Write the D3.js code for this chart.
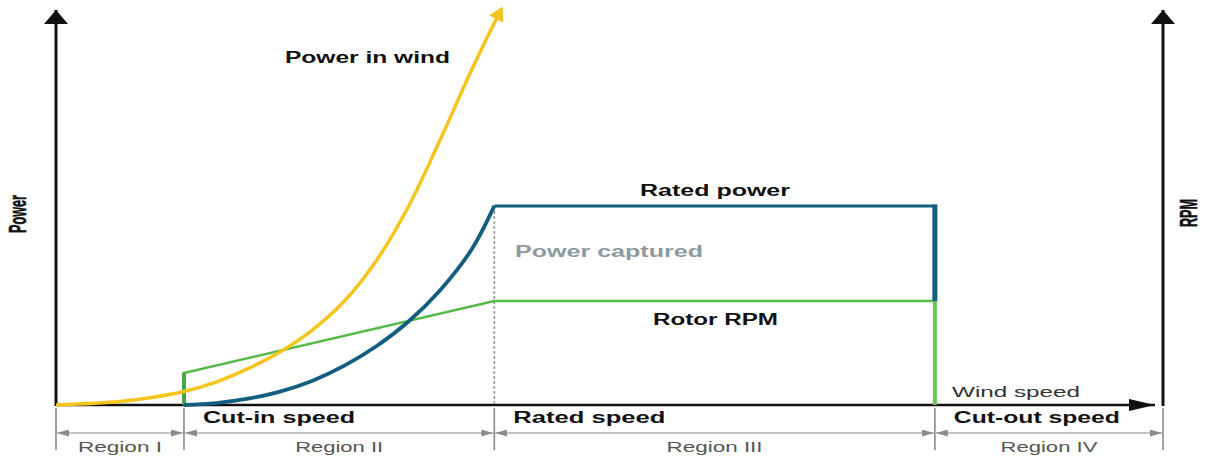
<!DOCTYPE html>
<html><head><meta charset="utf-8">
<script src="https://cdn.jsdelivr.net/npm/d3@7"></script>
<style>body{margin:0;background:#fff}svg{display:block}</style>
</head><body>
<svg id="c" width="1212" height="457"></svg>
<script>
// ---- data (wind speed in m/s-like units, power / rpm in % of axis) ----
const windSpeedWind = [0, 2, 3, 4, 5, 6, 7, 8, 9, 10, 11, 12, 13, 13.9];
const powerInWind   = [0, 0.9, 1.9, 3.4, 5.8, 9.2, 13.4, 18.9, 26.2, 36.4, 50, 67, 85, 100];
const windSpeedCaptured = [4, 5, 6, 7, 8, 9, 10, 11, 12, 13, 13.7, 27.47];
const powerCaptured     = [0, 0.5, 1.6, 3.4, 6.1, 9.9, 14.8, 21, 29, 39.5, 50.4, 50.4];
const cutOutDrop = [50.4, 26.3];
const windSpeedRpm = [4, 4, 13.7, 27.47, 27.47];
const rotorRpm     = [0, 8.1, 26.3, 26.3, 0];
const regionBounds = [0, 4, 13.7, 27.47, 34.6];
const speedLabels  = ["Cut-in speed", "Rated speed", "Cut-out speed"];
const regionLabels = ["Region I", "Region II", "Region III", "Region IV"];
const ratedPower = 50.4;

const svg = d3.select("#c");
const x = d3.scaleLinear().domain([0, 34.6]).range([56, 1163]);
const y = d3.scaleLinear().domain([0, 100]).range([405, 10]);

const defs = svg.append("defs");
function mk(id, color, w, h, refX) {
  defs.append("marker").attr("id", id).attr("viewBox", `0 ${-h} ${w} ${2*h}`)
    .attr("refX", refX).attr("refY", 0).attr("markerWidth", w).attr("markerHeight", 2*h)
    .attr("markerUnits", "userSpaceOnUse").attr("orient", "auto-start-reverse")
    .append("path").attr("d", `M0,${-h}L${w},0L0,${h}Z`).attr("fill", color);
}
mk("ah-black", "#111", 26, 6, 26);
mk("ah-axis", "#111", 14, 12, 14);
mk("ah-yellow", "#f4c51c", 14, 8, 10);
mk("ah-grey", "#8a8a8a", 12, 3.5, 12);

const line = d3.line().x(d => x(d[0])).y(d => y(d[1]));
const smooth = d3.line().x(d => x(d[0])).y(d => y(d[1])).curve(d3.curveCatmullRom.alpha(0.5));

// ---- axes ----
svg.append("line").attr("x1", x(0)).attr("x2", x(0)).attr("y1", y(0)+1).attr("y2", y(100))
  .attr("stroke", "#111").attr("stroke-width", 3).attr("marker-end", "url(#ah-axis)");
svg.append("line").attr("x1", x(34.6)).attr("x2", x(34.6)).attr("y1", y(0)+1).attr("y2", y(100))
  .attr("stroke", "#111").attr("stroke-width", 3).attr("marker-end", "url(#ah-axis)");
svg.append("line").attr("x1", x(0)).attr("x2", x(34.6) - 8).attr("y1", y(0)).attr("y2", y(0))
  .attr("stroke", "#111").attr("stroke-width", 2.5).attr("marker-end", "url(#ah-black)");

// rated speed dashed guide
svg.append("line").attr("x1", x(13.7)).attr("x2", x(13.7)).attr("y1", y(ratedPower)).attr("y2", y(0))
  .attr("stroke", "#9a9a9a").attr("stroke-width", 1.6).attr("stroke-dasharray", "3,2");

// ---- series ----
svg.append("path").datum(windSpeedRpm.map((v, i) => [v, rotorRpm[i]]))
  .attr("d", line).attr("fill", "none").attr("stroke", "#55b947").attr("stroke-width", 2.5);
svg.append("line").attr("x1", x(4)).attr("x2", x(4)).attr("y1", y(0)).attr("y2", y(rotorRpm[1]))
  .attr("stroke", "#4aa63e").attr("stroke-width", 4);
svg.append("line").attr("x1", x(27.47)).attr("x2", x(27.47)).attr("y1", y(0)).attr("y2", y(26.3))
  .attr("stroke", "#6cc15a").attr("stroke-width", 4);

svg.append("path").datum(windSpeedWind.map((v, i) => [v, powerInWind[i]]))
  .attr("d", smooth).attr("fill", "none").attr("stroke", "#f4c51c")
  .attr("stroke-width", 3.5).attr("marker-end", "url(#ah-yellow)");

const capPts = windSpeedCaptured.map((v, i) => [v, powerCaptured[i]]);
svg.append("path").datum(capPts.slice(0, 11))
  .attr("d", smooth).attr("fill", "none").attr("stroke", "#125e7e").attr("stroke-width", 3.8);
svg.append("path").datum(capPts.slice(10))
  .attr("d", line).attr("fill", "none").attr("stroke", "#125e7e").attr("stroke-width", 3);
svg.append("line").attr("x1", x(27.47)).attr("x2", x(27.47))
  .attr("y1", y(cutOutDrop[0]) - 1.5).attr("y2", y(cutOutDrop[1]))
  .attr("stroke", "#125e7e").attr("stroke-width", 5);

// ---- region band ----
regionBounds.forEach(v => {
  svg.append("line").attr("x1", x(v)).attr("x2", x(v)).attr("y1", 408).attr("y2", 450)
    .attr("stroke", "#8a8a8a").attr("stroke-width", 1.6);
});
regionLabels.forEach((t, i) => {
  const a = x(regionBounds[i]), b = x(regionBounds[i+1]);
  svg.append("line").attr("x1", a + 1).attr("x2", b - 1).attr("y1", 433).attr("y2", 433)
    .attr("stroke", "#8a8a8a").attr("stroke-width", 1.2)
    .attr("marker-start", "url(#ah-grey)").attr("marker-end", "url(#ah-grey)");
  svg.append("text").attr("x", (a + b) / 2).attr("y", 452).attr("text-anchor", "middle")
    .attr("font-family", "Liberation Sans, Arial, sans-serif").attr("font-size", 14)
    .attr("fill", "#555").attr("textLength", [84, 88, 96, 97][i]).attr("lengthAdjust", "spacingAndGlyphs")
    .text(t);
});
speedLabels.forEach((t, i) => {
  svg.append("text").attr("x", x(regionBounds[i+1]) + 19).attr("y", 423)
    .attr("font-family", "Liberation Sans, Arial, sans-serif").attr("font-size", 16).attr("font-weight", "bold")
    .attr("fill", "#111").attr("textLength", [152, 152, 166][i]).attr("lengthAdjust", "spacingAndGlyphs")
    .text(t);
});

// ---- annotations ----
function label(t, x0, yb, len, size, weight, fill) {
  svg.append("text").attr("x", x0).attr("y", yb)
    .attr("font-family", "Liberation Sans, Arial, sans-serif").attr("font-size", size)
    .attr("font-weight", weight).attr("fill", fill)
    .attr("textLength", len).attr("lengthAdjust", "spacingAndGlyphs").text(t);
}
label("Power in wind", 285, 63, 165, 16, "bold", "#111");
label("Rated power", 640, 196, 150, 16, "bold", "#111");
label("Power captured", 515, 257, 188, 16, "bold", "#8d9aa1");
label("Rotor RPM", 653, 325, 125, 16, "bold", "#111");
label("Wind speed", 952, 397, 128, 15, "normal", "#333");

function vlabel(t, cx, cy, len) {
  svg.append("text").attr("transform", `translate(${cx},${cy}) rotate(-90) scale(1,1.5)`)
    .attr("text-anchor", "middle").attr("dy", "0.35em")
    .attr("font-family", "Liberation Sans Narrow, Liberation Sans, Arial, sans-serif")
    .attr("font-size", 16).attr("font-weight", "bold").attr("fill", "#111")
    .attr("stroke", "#111").attr("stroke-width", 0.4)
    .attr("textLength", len).attr("lengthAdjust", "spacingAndGlyphs").text(t);
}
vlabel("Power", 18, 214, 38);
vlabel("RPM", 1189, 213, 28);
</script>
</body></html>
